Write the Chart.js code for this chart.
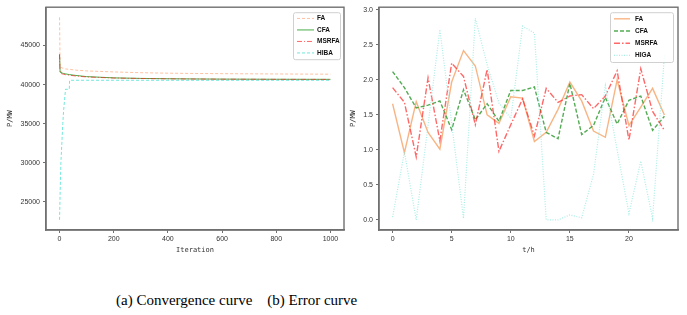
<!DOCTYPE html>
<html>
<head>
<meta charset="utf-8">
<script src="https://cdn.jsdelivr.net/npm/chart.js@4.4.1/dist/chart.umd.min.js"></script>
<style>
  html, body { margin: 0; padding: 0; background: #fff; }
  #wrap { position: relative; width: 687px; height: 315px; overflow: hidden; }
  #convBox { position: absolute; left: 0; top: 0; width: 348px; height: 258px; }
  #errBox { position: absolute; left: 346px; top: 0; width: 341px; height: 258px; }
  #caption {
    position: absolute; left: 116px; top: 291px;
    font-family: "Liberation Serif", "Times New Roman", serif;
    font-size: 15px; color: #000; white-space: pre; line-height: 18px;
  }
</style>
</head>
<body>
<div id="wrap">
  <div id="convBox"><canvas id="convChart"></canvas></div>
  <div id="errBox"><canvas id="errChart"></canvas></div>
  <div id="caption">(a) Convergence curve    (b) Error curve</div>
</div>
<script>
// (a) 收敛曲线 - 读图得到的迭代点
const convIter  = [0, 2, 5, 12, 15, 22, 36, 37, 60, 100, 200, 300, 400, 500, 600, 800, 1000];
const convFA    = [48600, 42300, 42200, 42100, 42080, 42000, 41950, 41950, 41850, 41750, 41620, 41520, 41460, 41420, 41400, 41360, 41330];
const convCFA   = [43800, 41650, 41550, 41450, 41420, 41370, 41280, 41280, 41170, 41020, 40860, 40790, 40750, 40720, 40700, 40680, 40670];
const convMSRFA = [43900, 41500, 41420, 41350, 41320, 41270, 41200, 41200, 41100, 40980, 40840, 40780, 40740, 40710, 40690, 40670, 40660];
const convHIBA  = [22700, 25900, 30000, 35000, 36650, 39400, 39400, 40550, 40550, 40550, 40550, 40550, 40550, 40550, 40550, 40550, 40550];
const convXTicks = [0, 200, 400, 600, 800, 1000];
const convYTicks = [25000, 30000, 35000, 40000, 45000];

// (b) 误差曲线
const hours    = [0,1,2,3,4,5,6,7,8,9,10,11,12,13,14,15,16,17,18,19,20,21,22,23];
const errFA    = [1.66,0.96,1.69,1.25,1.01,1.97,2.42,2.20,1.50,1.38,1.76,1.74,1.12,1.25,1.58,1.97,1.70,1.27,1.18,2.00,1.35,1.61,1.88,1.50];
const errCFA   = [2.12,1.89,1.60,1.64,1.70,1.29,1.86,1.43,1.66,1.41,1.85,1.85,1.90,1.25,1.16,1.95,1.22,1.35,1.75,1.37,1.71,1.77,1.28,1.48];
const errMSRFA = [1.89,1.68,0.90,2.03,1.13,2.24,2.05,1.36,2.15,0.98,1.36,1.73,1.20,1.88,1.68,1.77,1.79,1.59,1.77,2.13,1.14,2.16,1.55,1.28];
const errHIGA  = [0.04,0.97,0.00,1.35,2.72,1.38,0.02,2.88,2.22,1.67,1.45,2.77,2.67,0.00,0.00,0.07,0.03,0.65,1.92,1.00,0.09,0.84,0.02,2.35];
const errXTicks = [0, 5, 10, 15, 20];
const errYTicks = [0, 0.5, 1.0, 1.5, 2.0, 2.5, 3.0];

const tickFont  = { family: "'Liberation Sans', Arial, sans-serif", size: 7 };
const titleFont = { family: "'DejaVu Sans Mono', monospace", size: 7 };
const textColor = '#333';
const spineColor = '#707070';

// 坐标框和图例
const framePlugin = {
    id: 'frameBox',
    afterDraw(chart) {
        const { ctx, chartArea: a } = chart;
        ctx.save();
        ctx.strokeStyle = spineColor;
        ctx.lineWidth = 1.4;
        ctx.strokeRect(a.left, a.top, a.right - a.left, a.bottom - a.top);

        const lg = chart.options.plugins.boxLegend;
        if (lg) {
            const x0 = a.right - lg.right - lg.width;
            const y0 = a.top + lg.top;
            const h = lg.pad + lg.rowH * chart.data.datasets.length;
            ctx.fillStyle = 'rgba(255,255,255,0.85)';
            ctx.strokeStyle = '#d0d0d0';
            ctx.lineWidth = 1;
            ctx.beginPath();
            ctx.roundRect(x0 + 0.5, y0 + 0.5, lg.width, h, 2);
            ctx.fill();
            ctx.stroke();
            chart.data.datasets.forEach((ds, i) => {
                const yy = y0 + lg.pad / 2 + lg.rowH * (i + 0.5);
                ctx.strokeStyle = ds.borderColor;
                ctx.lineWidth = ds.borderWidth;
                ctx.setLineDash(ds.borderDash || []);
                ctx.beginPath();
                ctx.moveTo(x0 + 4, yy);
                ctx.lineTo(x0 + 4 + lg.lineLen, yy);
                ctx.stroke();
                ctx.setLineDash([]);
                ctx.fillStyle = '#111';
                ctx.font = "bold 6.5px 'Liberation Sans', Arial, sans-serif";
                ctx.textBaseline = 'middle';
                ctx.textAlign = 'left';
                ctx.fillText(ds.label, x0 + lg.textX, yy);
            });
        }
        ctx.restore();
    }
};

function fixedTicks(list) {
    return function(scale) { scale.ticks = list.map(v => ({ value: v })); };
}

function makeSeries(label, xs, ys, color, dash, width, order) {
    return {
        label: label,
        data: xs.map((x, i) => ({ x: x, y: ys[i] })),
        borderColor: color,
        borderDash: dash,
        borderWidth: width,
        pointRadius: 0,
        tension: 0,
        fill: false,
        order: order
    };
}

function axisX(min, max, ticks, title, fmt) {
    return {
        type: 'linear', min: min, max: max,
        afterBuildTicks: fixedTicks(ticks),
        afterFit: (s) => { s.height = 28; },
        grid: { display: true, drawOnChartArea: false, drawTicks: true, tickLength: 3, color: spineColor },
        border: { display: true, color: spineColor, width: 1.4 },
        ticks: { font: tickFont, color: textColor, padding: 2, maxRotation: 0, autoSkip: false, callback: fmt },
        title: { display: true, text: title, font: titleFont, color: textColor, padding: { top: 0, bottom: 4 } }
    };
}

function axisY(min, max, ticks, width, titlePad, fmt) {
    return {
        type: 'linear', min: min, max: max,
        afterBuildTicks: fixedTicks(ticks),
        afterFit: (s) => { s.width = width; },
        grid: { display: true, drawOnChartArea: false, drawTicks: true, tickLength: 3, color: spineColor },
        border: { display: true, color: spineColor, width: 1.4 },
        ticks: { font: tickFont, color: textColor, padding: 3, autoSkip: false, callback: fmt },
        title: { display: true, text: 'P/MW', font: titleFont, color: textColor, padding: { top: titlePad, bottom: 0 } }
    };
}

const commonPlugins = { legend: { display: false }, tooltip: { enabled: false } };

new Chart(document.getElementById('convChart').getContext('2d'), {
    type: 'line',
    data: {
        datasets: [
            makeSeries('FA',    convIter, convFA,    'rgba(255,160,110,0.65)', [3, 2], 1, 3),
            makeSeries('CFA',   convIter, convCFA,   'rgba(40,160,40,0.85)',   [],     1, 2),
            makeSeries('MSRFA', convIter, convMSRFA, 'rgba(255,40,40,0.7)',    [5, 2, 1, 2], 1, 1),
            makeSeries('HIBA',  convIter, convHIBA,  'rgba(64,224,208,0.75)',  [3, 2], 1, 0)
        ]
    },
    options: {
        responsive: true,
        maintainAspectRatio: false,
        animation: false,
        layout: { padding: { top: 7, right: 4, left: 0, bottom: 0 } },
        scales: {
            x: axisX(-50, 1050, convXTicks, 'Iteration', (v) => String(v)),
            y: axisY(21400, 49900, convYTicks, 46, 6, (v) => String(v))
        },
        plugins: Object.assign({
            boxLegend: { right: 4, top: 5, width: 47, rowH: 11.5, pad: 1, lineLen: 17, textX: 24 }
        }, commonPlugins)
    },
    plugins: [framePlugin]
});

new Chart(document.getElementById('errChart').getContext('2d'), {
    type: 'line',
    data: {
        datasets: [
            makeSeries('FA',    hours, errFA,    'rgba(245,150,80,0.7)',   [],     1.4, 3),
            makeSeries('CFA',   hours, errCFA,   'rgba(40,150,40,0.8)',    [4, 2], 1.4, 2),
            makeSeries('MSRFA', hours, errMSRFA, 'rgba(255,40,40,0.7)',    [6, 2, 1.5, 2], 1.4, 1),
            makeSeries('HIGA',  hours, errHIGA,  'rgba(140,232,222,0.75)', [1, 1.5], 1.2, 0)
        ]
    },
    options: {
        responsive: true,
        maintainAspectRatio: false,
        animation: false,
        layout: { padding: { top: 7, right: 9, left: 0, bottom: 0 } },
        scales: {
            x: axisX(-1.15, 24.15, errXTicks, 't/h', (v) => String(v)),
            y: axisY(-0.145, 3.04, errYTicks, 33, 3, (v) => v.toFixed(1))
        },
        plugins: Object.assign({
            boxLegend: { right: 5, top: 5, width: 63, rowH: 12.2, pad: 1, lineLen: 16, textX: 25 }
        }, commonPlugins)
    },
    plugins: [framePlugin]
});
</script>
</body>
</html>
